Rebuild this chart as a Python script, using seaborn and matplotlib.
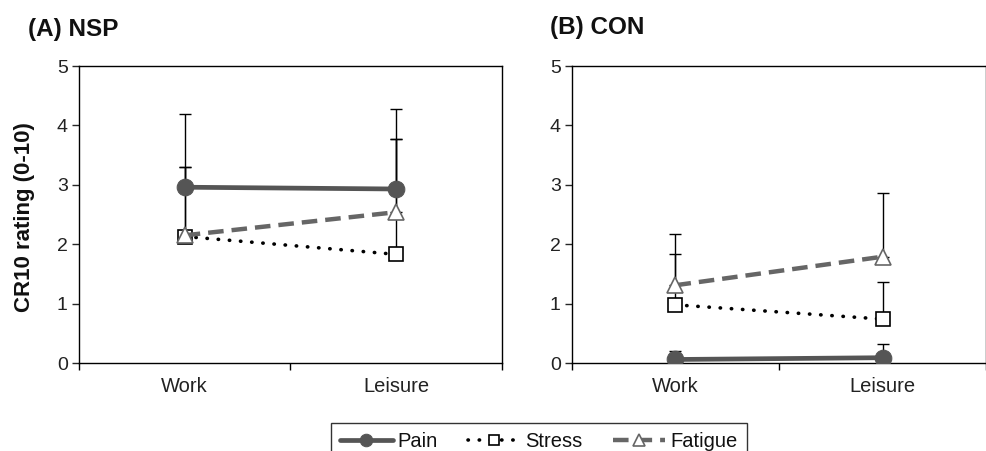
import pandas as pd
import numpy as np
import matplotlib
matplotlib.use("Agg")
import matplotlib.pyplot as plt
import seaborn as sns

sns.set_style("ticks")
plt.rcParams["font.family"] = ["Liberation Sans", "DejaVu Sans"]

periods = ["Work", "Leisure"]
measures = ["Pain", "Stress", "Fatigue"]

# (A) NSP
nsp_pain = [2.96, 2.93]
nsp_pain_sd = [1.24, 1.35]
nsp_stress = [2.13, 1.83]
nsp_stress_sd = [1.17, 1.94]
nsp_fatigue = [2.15, 2.54]
nsp_fatigue_sd = [1.15, 1.23]

# (B) CON
con_pain = [0.06, 0.09]
con_pain_sd = [0.15, 0.23]
con_stress = [0.98, 0.74]
con_stress_sd = [0.86, 0.62]
con_fatigue = [1.31, 1.79]
con_fatigue_sd = [0.86, 1.08]

rows = []
for group, vals in [("NSP", [(nsp_pain, nsp_pain_sd), (nsp_stress, nsp_stress_sd), (nsp_fatigue, nsp_fatigue_sd)]),
                    ("CON", [(con_pain, con_pain_sd), (con_stress, con_stress_sd), (con_fatigue, con_fatigue_sd)])]:
    for m, (mean, sd) in zip(measures, vals):
        for i, p in enumerate(periods):
            rows.append({"group": group, "measure": m, "period": p, "pos": i, "rating": mean[i], "sd": sd[i]})
df = pd.DataFrame(rows)

styles = {
    "Pain": dict(color="#555555", marker="o", markersize=12, markerfacecolor="#555555",
                 markeredgecolor="#555555", linewidth=3.4, linestyle="-"),
    "Stress": dict(color="black", marker="s", markersize=10, markerfacecolor="white",
                   markeredgecolor="black", markeredgewidth=1.2, linewidth=2.6,
                   linestyle=(0, (0.1, 3.0)), dash_capstyle="round"),
    "Fatigue": dict(color="#666666", marker="^", markersize=12, markerfacecolor="white",
                    markeredgecolor="#666666", markeredgewidth=1.2, linewidth=3.2,
                    linestyle=(0, (3.5, 1.8))),
}

fig = plt.figure(figsize=(9.87, 4.51), dpi=100)
ax_a = fig.add_axes([0.080, 0.195, 0.4286, 0.6586])
ax_b = fig.add_axes([0.5795, 0.195, 0.4195, 0.6586])

for ax, group in [(ax_a, "NSP"), (ax_b, "CON")]:
    sub = df[df["group"] == group]
    for m in measures:
        d = sub[sub["measure"] == m]
        ax.errorbar(d["pos"], d["rating"], yerr=[np.zeros(len(d)), d["sd"]], fmt="none",
                    ecolor="black", elinewidth=1.0, capsize=4.5, capthick=1.0, zorder=2)
    for m in measures:
        d = sub[sub["measure"] == m]
        sns.lineplot(data=d, x="pos", y="rating", ax=ax, label=m, legend=False, zorder=3, **styles[m])
    ax.set_xlim(-0.5, 1.5)
    ax.set_ylim(0, 5)
    ax.set_yticks([0, 1, 2, 3, 4, 5])
    ax.set_xticks([-0.5, 0.5, 1.5])
    ax.set_xticklabels([])
    ax.set_xticks([0, 1], minor=True)
    ax.set_xticklabels(periods, minor=True)
    ax.tick_params(axis="x", which="major", direction="out", length=5, width=1, colors="black")
    ax.tick_params(axis="x", which="minor", length=0, pad=10, labelsize=14.5, labelcolor="#222222")
    ax.tick_params(axis="y", direction="out", length=5, width=1, labelsize=14, pad=3, labelcolor="#222222")
    ax.set_xlabel("")
    ax.set_ylabel("")
    for s in ax.spines.values():
        s.set_visible(True)
        s.set_color("black")
        s.set_linewidth(1.0)

fig.text(0.025, 0.519, "CR10 rating (0-10)", fontsize=16, fontweight="bold", rotation=90,
         va="center", ha="center", color="#111111")
fig.text(0.028, 0.935, "(A) NSP", fontsize=17.5, fontweight="bold", va="center", ha="left", color="#111111")
fig.text(0.557, 0.938, "(B) CON", fontsize=17.5, fontweight="bold", va="center", ha="left", color="#111111")

handles, labels = ax_a.get_legend_handles_labels()
leg = fig.legend(handles, labels, loc="upper center", bbox_to_anchor=(0.546, 0.062), ncol=3,
                 frameon=True, fancybox=False, edgecolor="black", fontsize=14.5, markerscale=0.75,
                 handlelength=2.6, columnspacing=1.5, handletextpad=0.25, borderpad=0.45,
                 borderaxespad=0)
leg.get_frame().set_linewidth(1.0)
for t in leg.get_texts():
    t.set_color("#111111")

plt.savefig("out.png", dpi=100)
plt.close()
